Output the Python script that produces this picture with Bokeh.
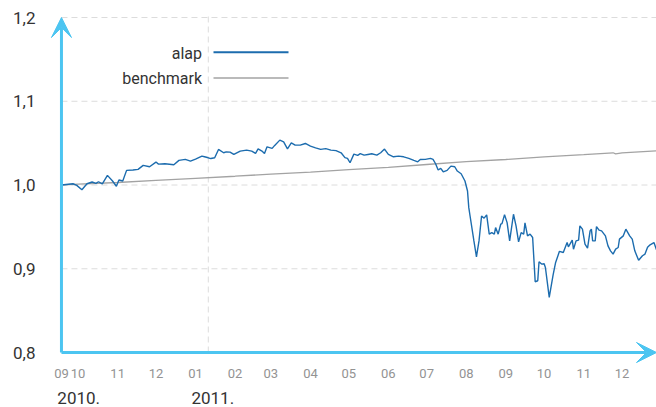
import pandas as pd
from bokeh.plotting import figure
from bokeh.models import (Range1d, FixedTicker, DatetimeTickFormatter, DatetimeAxis, Label,
                          Arrow, VeeHead)
from bokeh.embed import file_html
from bokeh.resources import INLINE

# ---------------- data ----------------
alap_dates = [
    "2010-09-18", "2010-09-27", "2010-09-30", "2010-10-04", "2010-10-08", "2010-10-12",
    "2010-10-15", "2010-10-17", "2010-10-20", "2010-10-24", "2010-10-28", "2010-10-31",
    "2010-11-02", "2010-11-05", "2010-11-08", "2010-11-13", "2010-11-17", "2010-11-21",
    "2010-11-26", "2010-12-01", "2010-12-03", "2010-12-08", "2010-12-15", "2010-12-19",
    "2010-12-24", "2010-12-28", "2011-01-01", "2011-01-06", "2011-01-08", "2011-01-11",
    "2011-01-13", "2011-01-16", "2011-01-19", "2011-01-23", "2011-01-25", "2011-01-28",
    "2011-01-31", "2011-02-05", "2011-02-10", "2011-02-14", "2011-02-17", "2011-02-19",
    "2011-02-22", "2011-02-24", "2011-02-26", "2011-03-02", "2011-03-04", "2011-03-08",
    "2011-03-11", "2011-03-14", "2011-03-17", "2011-03-20", "2011-03-24", "2011-03-28",
    "2011-04-01", "2011-04-05", "2011-04-09", "2011-04-13", "2011-04-17", "2011-04-21",
    "2011-04-25", "2011-04-28", "2011-04-30", "2011-05-02", "2011-05-05", "2011-05-08",
    "2011-05-10", "2011-05-13", "2011-05-16", "2011-05-19", "2011-05-23", "2011-05-26",
    "2011-05-29", "2011-06-01", "2011-06-05", "2011-06-09", "2011-06-13", "2011-06-17",
    "2011-06-21", "2011-06-24", "2011-06-26", "2011-06-30", "2011-07-04", "2011-07-06",
    "2011-07-08", "2011-07-10", "2011-07-12", "2011-07-14", "2011-07-17", "2011-07-20",
    "2011-07-23", "2011-07-25", "2011-07-28", "2011-07-31", "2011-08-02", "2011-08-03",
    "2011-08-04", "2011-08-07", "2011-08-09", "2011-08-11", "2011-08-13", "2011-08-15",
    "2011-08-17", "2011-08-19", "2011-08-21", "2011-08-23", "2011-08-24", "2011-08-26",
    "2011-08-28", "2011-08-29", "2011-08-31", "2011-09-02", "2011-09-04", "2011-09-07",
    "2011-09-09", "2011-09-11", "2011-09-13", "2011-09-15", "2011-09-16", "2011-09-18",
    "2011-09-20", "2011-09-22", "2011-09-24", "2011-09-26", "2011-09-27", "2011-09-29",
    "2011-10-01", "2011-10-02", "2011-10-05", "2011-10-08", "2011-10-10", "2011-10-13",
    "2011-10-16", "2011-10-19", "2011-10-20", "2011-10-23", "2011-10-24", "2011-10-26",
    "2011-10-28", "2011-10-29", "2011-10-31", "2011-11-02", "2011-11-04", "2011-11-06",
    "2011-11-07", "2011-11-08", "2011-11-10", "2011-11-11", "2011-11-13", "2011-11-15",
    "2011-11-18", "2011-11-20", "2011-11-22", "2011-11-24", "2011-11-26", "2011-11-28",
    "2011-11-29", "2011-12-02", "2011-12-04", "2011-12-07", "2011-12-09", "2011-12-11",
    "2011-12-14", "2011-12-17", "2011-12-19", "2011-12-21", "2011-12-23", "2011-12-26",
    "2011-12-28",
]
alap_values = [
    1.0000, 1.0015, 0.9996, 0.9944, 1.0015, 1.0036,
    1.0020, 1.0039, 1.0015, 1.0115, 1.0048, 0.9985,
    1.0060, 1.0048, 1.0175, 1.0179, 1.0187, 1.0235,
    1.0218, 1.0274, 1.0250, 1.0254, 1.0242, 1.0294,
    1.0306, 1.0286, 1.0310, 1.0345, 1.0337, 1.0325,
    1.0316, 1.0325, 1.0425, 1.0385, 1.0396, 1.0393,
    1.0365, 1.0405, 1.0417, 1.0405, 1.0377, 1.0432,
    1.0405, 1.0377, 1.0456, 1.0437, 1.0473, 1.0536,
    1.0515, 1.0432, 1.0504, 1.0476, 1.0476, 1.0496,
    1.0464, 1.0444, 1.0425, 1.0435, 1.0417, 1.0411,
    1.0385, 1.0327, 1.0318, 1.0266, 1.0369, 1.0354,
    1.0375, 1.0357, 1.0365, 1.0373, 1.0357, 1.0385,
    1.0429, 1.0365, 1.0337, 1.0345, 1.0337, 1.0318,
    1.0294, 1.0277, 1.0304, 1.0306, 1.0318, 1.0306,
    1.0254, 1.0179, 1.0199, 1.0158, 1.0175, 1.0226,
    1.0218, 1.0167, 1.0135, 1.0048, 0.9929, 0.9730,
    0.9630, 0.9333, 0.9143, 0.9333, 0.9630, 0.9604,
    0.9643, 0.9413, 0.9432, 0.9413, 0.9492, 0.9413,
    0.9532, 0.9539, 0.9646, 0.9551, 0.9333, 0.9651,
    0.9512, 0.9321, 0.9432, 0.9413, 0.9548, 0.9393,
    0.9413, 0.9373, 0.8845, 0.8857, 0.9083, 0.9056,
    0.9060, 0.9015, 0.8658, 0.8923, 0.9075, 0.9208,
    0.9194, 0.9313, 0.9262, 0.9342, 0.9234, 0.9333,
    0.9342, 0.9512, 0.9473, 0.9294, 0.9246, 0.9452,
    0.9473, 0.9333, 0.9333, 0.9504, 0.9461, 0.9452,
    0.9393, 0.9274, 0.9214, 0.9175, 0.9234, 0.9254,
    0.9354, 0.9393, 0.9473, 0.9393, 0.9354, 0.9214,
    0.9101, 0.9155, 0.9175, 0.9256, 0.9286, 0.9313,
    0.9226,
]

bench_dates = [
    "2010-09-18", "2010-10-01", "2010-11-01", "2010-12-01", "2011-01-01", "2011-02-01",
    "2011-03-01", "2011-04-01", "2011-05-01", "2011-06-01", "2011-07-01", "2011-08-01",
    "2011-09-01", "2011-10-01", "2011-11-01", "2011-11-24", "2011-11-26", "2011-12-01",
    "2011-12-28",
]
bench_values = [
    1.0000, 1.0010, 1.0030, 1.0055, 1.0080, 1.0105,
    1.0130, 1.0155, 1.0185, 1.0210, 1.0245, 1.0280,
    1.0305, 1.0335, 1.0362, 1.0385, 1.0372, 1.0385,
    1.0408,
]

series_names = ["alap", "benchmark"]

month_tick_dates = [
    "2010-09-18", "2010-10-01", "2010-11-01", "2010-12-01", "2011-01-01", "2011-02-01",
    "2011-03-01", "2011-04-01", "2011-05-01", "2011-06-01", "2011-07-01", "2011-08-01",
    "2011-09-01", "2011-10-01", "2011-11-01", "2011-12-01",
]
year_tick_dates = ["2010-09-18", "2011-01-01"]
year_tick_format = "%Y."          # gives "2010." and "2011."

y_ticks = [0.8, 0.9, 1.0, 1.1, 1.2]
y_labels = ["0,8", "0,9", "1,0", "1,1", "1,2"]

divider_date = "2011-01-11"

# ---------------- layout / styling ----------------
FONT = "Roboto"
AXIS_BLUE = "#4cc5f1"
ALAP_BLUE = "#1c6cae"
BENCH_GREY = "#a3a3a3"
GRID_GREY = "#dcdcdc"
TEXT_DARK = "#333333"

X_PAD_DAYS = 12.5      # room left of the data for the arrow heads
Y_PAD_LOW = 0.0167     # room below 0,8 for the x-axis arrow
Y_PAD_HIGH = 0.006
YEAR_LABEL_SHIFT_DAYS = 13.5   # year labels sit to the right of their year start


def ms(d):
    return pd.Timestamp(d).value / 1e6


def all_levels(fmt):
    return DatetimeTickFormatter(
        microseconds=fmt, milliseconds=fmt, seconds=fmt, minsec=fmt, minutes=fmt,
        hourmin=fmt, hours=fmt, days=fmt, months=fmt, years=fmt)


def plain_axis(ax, size, color, standoff):
    ax.axis_line_color = None
    ax.major_tick_line_color = None
    ax.minor_tick_line_color = None
    ax.major_tick_out = 0
    ax.major_tick_in = 0
    ax.major_label_standoff = standoff
    ax.major_label_text_font = FONT
    ax.major_label_text_font_size = size
    ax.major_label_text_color = color


x_alap = pd.to_datetime(alap_dates)
x_bench = pd.to_datetime(bench_dates)
x_first, x_last = x_alap[0], x_alap[-1]

p = figure(
    width=656, height=407,
    x_axis_type="datetime",
    x_range=Range1d(x_first - pd.Timedelta(days=X_PAD_DAYS), x_last),
    y_range=Range1d(y_ticks[0] - Y_PAD_LOW, y_ticks[-1] + Y_PAD_HIGH),
    output_backend="svg", toolbar_location=None,
    min_border_left=45, min_border_right=0, min_border_top=12, min_border_bottom=41,
    background_fill_color="white", border_fill_color="white",
)
p.outline_line_color = None
p.xgrid.visible = False
p.ygrid.visible = False

# dashed grid lines spanning the data area only
grid_y = y_ticks[1:]
p.segment(x0=[x_first] * len(grid_y), x1=[x_last] * len(grid_y), y0=grid_y, y1=grid_y,
          line_color=GRID_GREY, line_dash="6 4", line_width=1)
p.segment(x0=[pd.Timestamp(divider_date)], x1=[pd.Timestamp(divider_date)],
          y0=[y_ticks[0]], y1=[y_ticks[-1] + Y_PAD_HIGH],
          line_color=GRID_GREY, line_dash="6 4", line_width=1)

# series
p.line(x_bench, bench_values, line_color=BENCH_GREY, line_width=1.3)
p.line(x_alap, alap_values, line_color=ALAP_BLUE, line_width=1.4)

# x axis (months)
xa = p.xaxis[0]
xa.ticker = FixedTicker(ticks=[ms(d) for d in month_tick_dates])
xa.formatter = all_levels("%m")
plain_axis(xa, "13px", "#939393", 2)

# second x axis (years)
year_ticks = [ms(pd.Timestamp(d) + pd.Timedelta(days=YEAR_LABEL_SHIFT_DAYS))
              for d in year_tick_dates]
xa2 = DatetimeAxis(ticker=FixedTicker(ticks=year_ticks),
                   formatter=all_levels(year_tick_format))
plain_axis(xa2, "17px", TEXT_DARK, 11)
p.add_layout(xa2, "below")

# y axis
ya = p.yaxis[0]
ya.ticker = FixedTicker(ticks=y_ticks)
ya.major_label_overrides = {t: l for t, l in zip(y_ticks, y_labels)}
plain_axis(ya, "17px", TEXT_DARK, 10)

# axis arrows
x0 = ms(alap_dates[0])
x1 = ms(alap_dates[-1])
for xe, ye in [(x0, y_ticks[-1]), (x1, y_ticks[0])]:
    p.add_layout(Arrow(end=VeeHead(size=20, fill_color=AXIS_BLUE, line_color=AXIS_BLUE,
                                   line_width=1),
                       x_start=x0, y_start=y_ticks[0], x_end=xe, y_end=ye,
                       line_color=AXIS_BLUE, line_width=3))

# legend (label on the left, line on the right); screen units from frame bottom-left
legend_rows = [(series_names[0], ALAP_BLUE, 2, 312.7, 314.3),
               (series_names[1], BENCH_GREY, 1.5, 287.7, 288.5)]
for name, col, lw, ty, ly in legend_rows:
    p.add_layout(Label(x=156.5, y=ty, x_units="screen", y_units="screen", text=name,
                       text_align="right", text_baseline="alphabetic",
                       text_font=FONT, text_font_size="16px", text_color=TEXT_DARK))
    p.add_layout(Arrow(end=None, start_units="screen", end_units="screen",
                       x_start=168, y_start=ly, x_end=243, y_end=ly,
                       line_color=col, line_width=lw))

open("out.html", "w").write(file_html(p, INLINE))
